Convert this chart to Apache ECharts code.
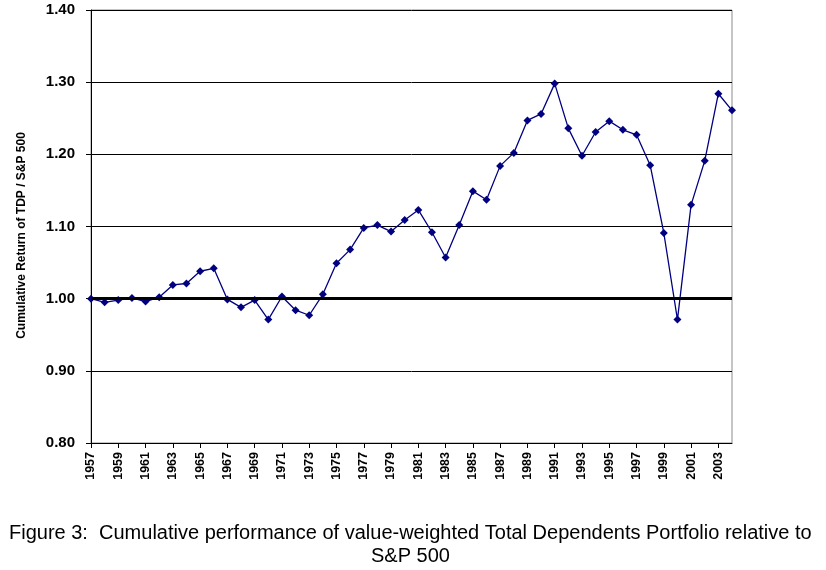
<!DOCTYPE html>
<html>
<head>
<meta charset="utf-8">
<title>Figure 3</title>
<script src="https://cdn.jsdelivr.net/npm/echarts@6/dist/echarts.min.js"></script>
<style>
  html, body { margin: 0; padding: 0; background: #fff; }
  #chart { width: 826px; height: 570px; }
</style>
</head>
<body>
<div id="chart"></div>
<script>
// years on the x axis
var years = ['1957', '1958', '1959', '1960', '1961', '1962', '1963', '1964', '1965', '1966',
    '1967', '1968', '1969', '1970', '1971', '1972', '1973', '1974', '1975', '1976',
    '1977', '1978', '1979', '1980', '1981', '1982', '1983', '1984', '1985', '1986',
    '1987', '1988', '1989', '1990', '1991', '1992', '1993', '1994', '1995', '1996',
    '1997', '1998', '1999', '2000', '2001', '2002', '2003', '2004'];

// cumulative return of TDP / S&P 500
var ratio = [1.000, 0.995, 0.998, 1.001, 0.996, 1.002, 1.019, 1.021, 1.038, 1.042,
    0.999, 0.988, 0.998, 0.971, 1.003, 0.984, 0.977, 1.006, 1.049, 1.068,
    1.098, 1.102, 1.093, 1.109, 1.123, 1.092, 1.057, 1.102, 1.149, 1.137,
    1.184, 1.202, 1.247, 1.256, 1.298, 1.236, 1.198, 1.231, 1.246, 1.234,
    1.227, 1.185, 1.091, 0.971, 1.130, 1.191, 1.284, 1.261];

var yMin = 0.80;
var yMax = 1.40;
var yStep = 0.10;
var baseline = 1.00;

var captionLines = [
    'Figure 3:  Cumulative performance of value-weighted Total Dependents Portfolio relative to',
    'S&P 500'
];

var font = 'Liberation Sans, Arial, sans-serif';
var captionStyle = {
    fontFamily: font,
    fontSize: 20,
    fontWeight: 'normal',
    color: '#000'
};

var chart = echarts.init(document.getElementById('chart'));
var option = {
    backgroundColor: '#ffffff',
    animation: false,
    title: [
        { text: captionLines[0], left: 4, top: 518, textStyle: captionStyle },
        { text: captionLines[1], left: 366, top: 541, textStyle: captionStyle }
    ],
    grid: {
        left: 91,
        right: 94,
        top: 10,
        bottom: 127,
        show: true,
        borderColor: '#8c8c8c',
        borderWidth: 1
    },
    xAxis: {
        type: 'category',
        data: years,
        boundaryGap: false,
        axisLine: { lineStyle: { color: '#000', width: 1 } },
        axisTick: { interval: 1, length: 5, lineStyle: { color: '#000' } },
        axisLabel: {
            interval: 1,
            rotate: 90,
            margin: 9,
            color: '#000',
            fontFamily: font,
            fontSize: 12.5,
            fontWeight: 'bold'
        },
        splitLine: { show: false }
    },
    yAxis: {
        type: 'value',
        min: yMin,
        max: yMax,
        interval: yStep,
        name: 'Cumulative Return of TDP / S&P 500',
        nameLocation: 'middle',
        nameGap: 63,
        nameTextStyle: {
            color: '#000',
            fontFamily: font,
            fontSize: 12,
            fontWeight: 'bold',
            padding: [0, 0, 0, -18]
        },
        axisLine: { show: true, lineStyle: { color: '#000', width: 1 } },
        axisTick: { show: true, length: 5, lineStyle: { color: '#000' } },
        axisLabel: {
            margin: 16,
            color: '#000',
            fontFamily: font,
            fontSize: 15,
            fontWeight: 'bold',
            formatter: function (v) { return v.toFixed(2); }
        },
        splitLine: { show: true, lineStyle: { color: '#000', width: 1 } }
    },
    series: [{
        type: 'line',
        data: ratio,
        symbol: 'diamond',
        symbolSize: 8,
        itemStyle: { color: '#000080' },
        lineStyle: { color: '#000080', width: 1.3 },
        markLine: {
            silent: true,
            symbol: 'none',
            label: { show: false },
            lineStyle: { color: '#000', width: 3, type: 'solid' },
            data: [{ yAxis: baseline }]
        },
        z: 3
    }]
};
chart.setOption(option);
</script>
</body>
</html>
